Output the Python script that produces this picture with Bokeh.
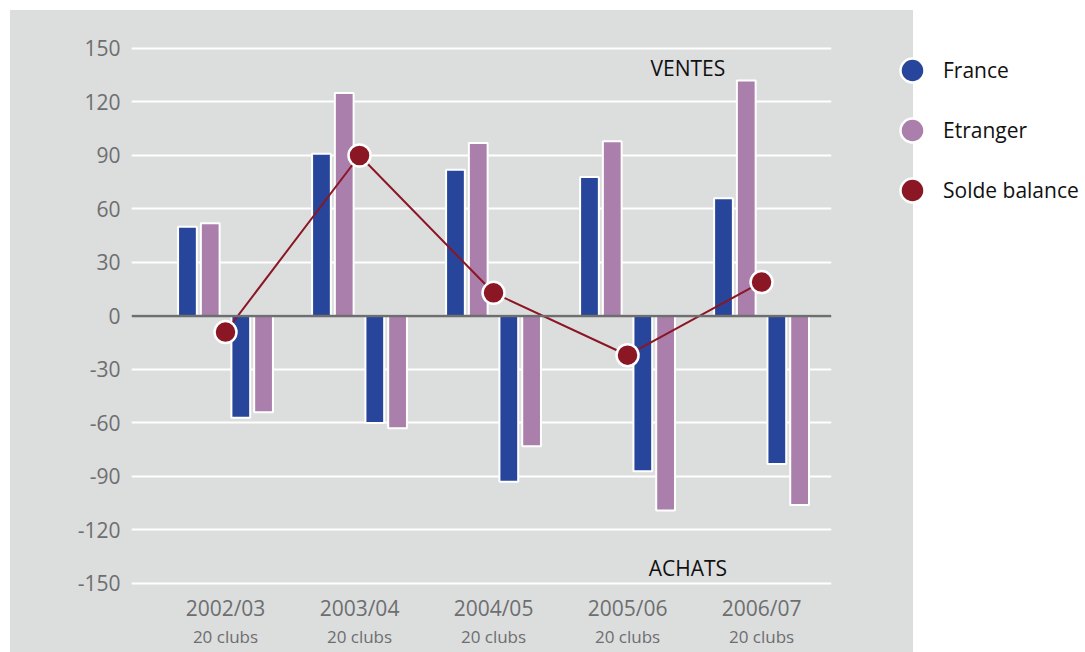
from bokeh.plotting import figure
from bokeh.models import (ColumnDataSource, LinearAxis, FixedTicker, Grid, Span,
                          Label, Legend, LegendItem, Range1d)
from bokeh.transform import dodge
from bokeh.embed import file_html
from bokeh.resources import INLINE

# ---- data ----
seasons = ["2002/03", "2003/04", "2004/05", "2005/06", "2006/07"]
clubs = ["20 clubs", "20 clubs", "20 clubs", "20 clubs", "20 clubs"]
france_ventes = [50, 91, 82, 78, 66]
etranger_ventes = [52, 125, 97, 98, 132]
france_achats = [-57, -60, -93, -87, -83]
etranger_achats = [-54, -63, -73, -109, -106]
solde = [-9, 90, 13, -22, 19]
y_ticks = [-150, -120, -90, -60, -30, 0, 30, 60, 90, 120, 150]
legend_labels = ["France", "Etranger", "Solde balance"]

GRAY = "#dcdddd"
BLUE = "#27469b"
MAUVE = "#ab7fab"
RED = "#8b1624"
TICK = "#6d6e70"
FONT = "Open Sans"

src = ColumnDataSource(dict(
    x=list(range(len(seasons))),
    fv=france_ventes, ev=etranger_ventes,
    fa=france_achats, ea=etranger_achats,
    solde=solde,
))

p = figure(frame_width=700, frame_height=572,
           min_border_left=131, min_border_right=254,
           min_border_top=18, min_border_bottom=62,
           x_range=Range1d(-0.7015, 4.522), y_range=Range1d(-153.93, 166.82),
           x_axis_type=None, y_axis_type=None,
           output_backend="svg", toolbar_location=None,
           background_fill_color=GRAY, border_fill_color=None,
           outline_line_color=None)

# grey panel behind the chart and its axes, white legend zone on the right
p.styles = {
    "background": ("linear-gradient(to bottom, white 0px, white 10px, transparent 10px), "
                   "linear-gradient(to right, white 0px, white 10px, #dcdddd 10px, "
                   "#dcdddd 913px, white 913px)")
}

# y axis
yaxis = LinearAxis(ticker=FixedTicker(ticks=y_ticks),
                   major_label_overrides={t: str(t) for t in y_ticks},
                   axis_line_color=None, major_tick_line_color=None,
                   minor_tick_line_color=None, major_tick_in=0, major_tick_out=0,
                   major_label_text_color=TICK, major_label_text_font=FONT,
                   major_label_text_font_size="21px", major_label_standoff=11)
p.add_layout(yaxis, "left")
p.add_layout(Grid(dimension=1, ticker=FixedTicker(ticks=y_ticks),
                  grid_line_color="white", grid_line_width=2))

# x axes (season + club count)
xa1 = LinearAxis(ticker=FixedTicker(ticks=list(range(len(seasons)))),
                 major_label_overrides={i: s for i, s in enumerate(seasons)},
                 axis_line_color=None, major_tick_line_color=None,
                 minor_tick_line_color=None, major_tick_in=0, major_tick_out=0,
                 major_label_text_color=TICK, major_label_text_font=FONT,
                 major_label_text_font_size="21px", major_label_standoff=3)
xa2 = LinearAxis(ticker=FixedTicker(ticks=list(range(len(clubs)))),
                 major_label_overrides={i: s for i, s in enumerate(clubs)},
                 axis_line_color=None, major_tick_line_color=None,
                 minor_tick_line_color=None, major_tick_in=0, major_tick_out=0,
                 major_label_text_color=TICK, major_label_text_font=FONT,
                 major_label_text_font_size="17px", major_label_standoff=0)
p.add_layout(xa1, "below")
p.add_layout(xa2, "below")

W = 0.14
bar_kw = dict(width=W, bottom=0, line_color="white", line_width=2, source=src)
p.vbar(x=dodge("x", -0.284), top="fv", fill_color=BLUE, **bar_kw)
p.vbar(x=dodge("x", -0.114), top="ev", fill_color=MAUVE, **bar_kw)
p.vbar(x=dodge("x", 0.114), top="fa", fill_color=BLUE, **bar_kw)
p.vbar(x=dodge("x", 0.284), top="ea", fill_color=MAUVE, **bar_kw)

p.add_layout(Span(location=0, dimension="width", line_color=TICK, line_width=2.5))

p.line(x="x", y="solde", source=src, line_color=RED, line_width=2)
r_solde = p.scatter(x="x", y="solde", source=src, size=22, fill_color=RED,
                    line_color="white", line_width=2.5)

# legend proxies (hidden round markers for the two bar series)
r_fr = p.scatter(x="x", y="fv", source=src, fill_color=BLUE,
                 line_color="white", line_width=2.5, visible=False)
r_et = p.scatter(x="x", y="ev", source=src, fill_color=MAUVE,
                 line_color="white", line_width=2.5, visible=False)

p.add_layout(Label(x=3.45, y=139.2, text="VENTES", text_align="center",
                   text_baseline="middle", text_font=FONT,
                   text_font_size="21px", text_color="#111111"))
p.add_layout(Label(x=3.45, y=-141.5, text="ACHATS", text_align="center",
                   text_baseline="middle", text_font=FONT,
                   text_font_size="21px", text_color="#111111"))

legend = Legend(items=[LegendItem(label=legend_labels[0], renderers=[r_fr]),
                       LegendItem(label=legend_labels[1], renderers=[r_et]),
                       LegendItem(label=legend_labels[2], renderers=[r_solde])],
                location=(50, 370), glyph_width=62, glyph_height=60,
                spacing=0, padding=0, margin=0, label_standoff=0,
                border_line_color=None, background_fill_alpha=0,
                inactive_fill_alpha=0,
                label_text_font=FONT, label_text_font_size="21px",
                label_text_color="#111111", label_text_baseline="middle")
p.add_layout(legend, "right")

open("out.html", "w").write(file_html(p, INLINE))
